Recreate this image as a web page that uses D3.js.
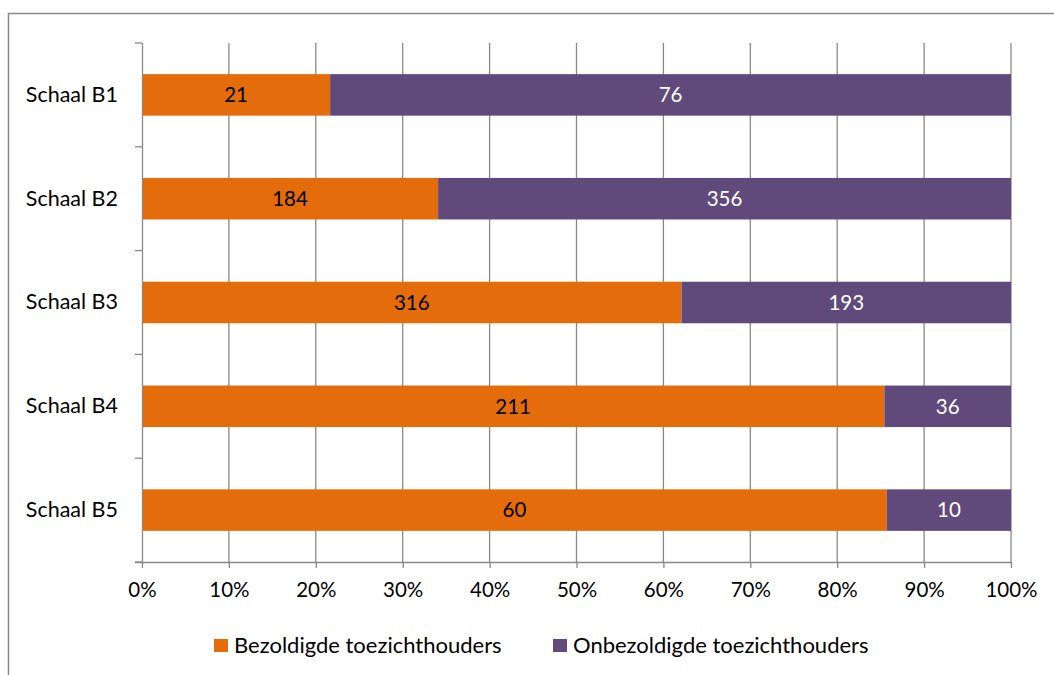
<!DOCTYPE html>
<html>
<head>
<meta charset="utf-8">
<script src="https://cdn.jsdelivr.net/npm/d3@7"></script>
<style>
  html, body { margin: 0; padding: 0; background: #fff; }
  svg { display: block; font-family: Lato, "Open Sans", sans-serif; }
</style>
</head>
<body>
<svg id="chart" width="1054" height="675"></svg>
<script>
const categories = ["Schaal B1", "Schaal B2", "Schaal B3", "Schaal B4", "Schaal B5"];
const seriesNames = ["Bezoldigde toezichthouders", "Onbezoldigde toezichthouders"];
const paid = [21, 184, 316, 211, 60];
const unpaid = [76, 356, 193, 36, 10];
const tickValues = [0, 0.1, 0.2, 0.3, 0.4, 0.5, 0.6, 0.7, 0.8, 0.9, 1.0];
const colors = ["#E46C0A", "#604A7B"];
const labelColors = ["#000000", "#ffffff"];

const svg = d3.select("#chart");
const gridColor = "#898989";

// frame
svg.append("path")
  .attr("d", "M8.5,675 L8.5,13.5 L1054,13.5")
  .attr("fill", "none").attr("stroke", gridColor).attr("stroke-width", 1.5);

const pL = 142, pR = 1011, pT = 43, pB = 562;

const x = d3.scaleLinear().domain([0, 1]).range([pL, pR]);
const y = d3.scaleBand().domain(categories).range([pT, pB])
  .paddingInner(0.6).paddingOuter(0.3);

// data rows
const rows = categories.map((c, i) => {
  const vals = [paid[i], unpaid[i]];
  const total = d3.sum(vals);
  let acc = 0;
  return vals.map((v, k) => {
    const seg = { cat: c, k, v, x0: acc / total, x1: (acc + v) / total };
    acc += v;
    return seg;
  });
}).flat();

// gridlines
svg.append("g").selectAll("line").data(tickValues.slice(1)).join("line")
  .attr("x1", d => x(d)).attr("x2", d => x(d))
  .attr("y1", pT).attr("y2", pB)
  .attr("stroke", gridColor).attr("stroke-width", 1.3);

// bars
svg.append("g").selectAll("rect").data(rows).join("rect")
  .attr("x", d => x(d.x0))
  .attr("width", d => x(d.x1) - x(d.x0))
  .attr("y", d => y(d.cat))
  .attr("height", y.bandwidth())
  .attr("fill", d => colors[d.k]);

// bar labels
svg.append("g").selectAll("text").data(rows).join("text")
  .attr("x", d => (x(d.x0) + x(d.x1)) / 2)
  .attr("y", d => y(d.cat) + y.bandwidth() / 2)
  .attr("dy", "0.36em")
  .attr("text-anchor", "middle")
  .attr("font-size", 20.5)
  .attr("fill", d => labelColors[d.k])
  .text(d => d.v);

// x axis
const xAxis = d3.axisBottom(x).tickValues(tickValues)
  .tickFormat(d3.format(".0%")).tickSize(6).tickPadding(14);
const gx = svg.append("g").attr("transform", `translate(0,${pB})`).call(xAxis);
gx.select(".domain").attr("d", `M${pL - 7},0.5H${pR}`).attr("stroke", gridColor).attr("stroke-width", 1.3);
gx.selectAll(".tick line").attr("stroke", gridColor).attr("stroke-width", 1.3);
gx.selectAll(".tick text").attr("font-size", 20.5).attr("font-family", "Lato, sans-serif").attr("fill", "#000");

// y axis
const yAxis = d3.axisLeft(y).tickSize(0).tickPadding(24);
const gy = svg.append("g").attr("transform", `translate(${pL},0)`).call(yAxis);
gy.select(".domain").attr("d", `M0.5,${pT}V${pB}`).attr("stroke", gridColor).attr("stroke-width", 1.3);
gy.selectAll(".tick text").attr("font-size", 21.5).attr("font-family", "Lato, sans-serif").attr("fill", "#000");
// band boundary ticks
const bounds = categories.map(c => y(c) - y.step() * y.paddingInner() / 2).concat([pB]);
bounds[0] = pT;
svg.append("g").selectAll("line").data(bounds).join("line")
  .attr("x1", pL - 7).attr("x2", pL)
  .attr("y1", d => d).attr("y2", d => d)
  .attr("stroke", gridColor).attr("stroke-width", 1.3);

// legend
const legend = svg.append("g");
const legendX = [214, 553];
seriesNames.forEach((name, i) => {
  const g = legend.append("g").attr("transform", `translate(${legendX[i]},639)`);
  g.append("rect").attr("width", 14).attr("height", 13).attr("fill", colors[i]);
  g.append("text").attr("x", 20).attr("y", 13.5).attr("font-size", 22).attr("fill", "#000").text(name);
});
</script>
</body>
</html>
